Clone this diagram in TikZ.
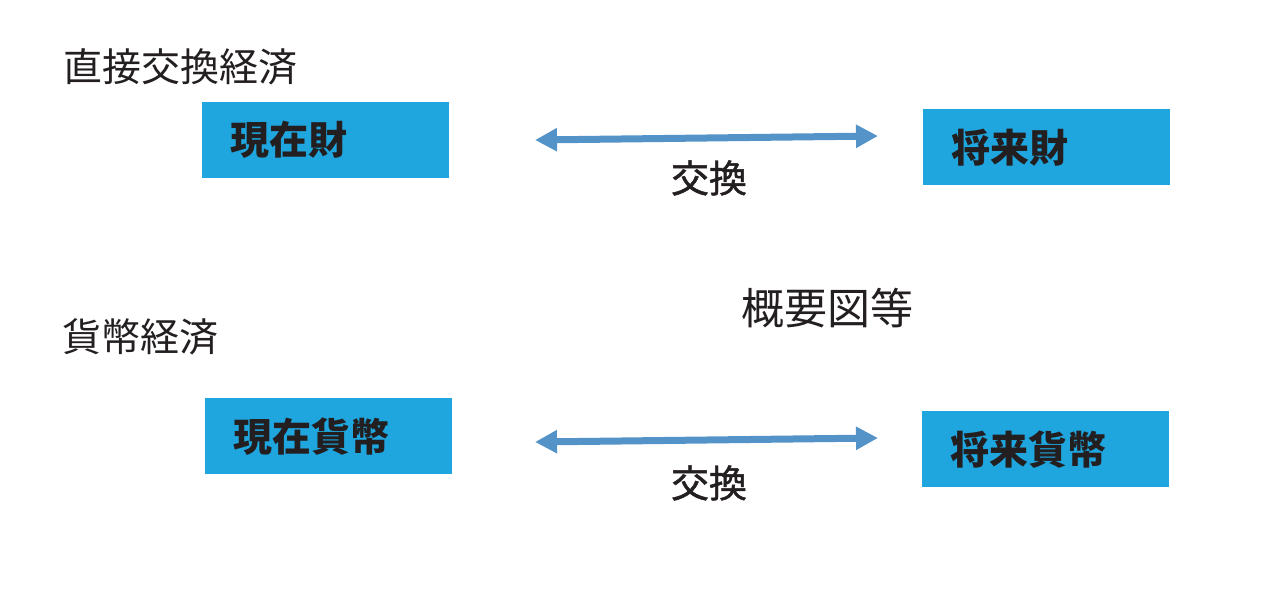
\documentclass[tikz,border=0pt]{standalone}
\usepackage{fontspec}
\usetikzlibrary{arrows.meta}
\newfontfamily\cjk{Noto Sans CJK JP}
\newfontfamily\cjkmid[FakeBold=1.2]{Noto Sans CJK JP}
\def \boxwidth {247pt}
\def \boxheight {76pt}
\definecolor{boxblue}{RGB}{31,166,222}
\definecolor{arrowblue}{RGB}{84,147,200}
\definecolor{inkgray}{RGB}{35,31,32}
\tikzset{
  goodsbox/.style={fill=boxblue, anchor=north west, minimum width=\boxwidth, minimum height=\boxheight,
    text width=191pt, inner xsep=28pt, inner ysep=0pt, align=left, text=inkgray,
    font=\cjk\bfseries\fontsize{39}{39}\selectfont},
  headtext/.style={anchor=west, inner sep=0pt, text=inkgray, font=\cjk\fontsize{39}{39}\selectfont},
  swaptext/.style={inner sep=0pt, text=inkgray, font=\cjkmid\fontsize{38}{38}\selectfont},
  swaparrow/.style={draw=arrowblue, line width=7pt, {Triangle[length=22pt,width=22pt]}-{Triangle[length=22pt,width=22pt]}}
}
\begin{document}
\begin{tikzpicture}[x=1pt,y=-1pt]
\useasboundingbox (0,0) rectangle (1283,592);
% Draw the direct exchange row
\node[headtext] (directhead) at (63,67) {直接交換経済};
\node[goodsbox] (nowgoods) at (202,102) {現在財};
\node[goodsbox] (futgoods) at (923,109) {将来財};
\coordinate (goodsleft) at (535,140);
\coordinate (goodsright) at (878,136);
\draw[swaparrow] (goodsleft) -- (goodsright);
\node[swaptext] (goodsswap) at (709,178) {交換};
% Draw the caption in the middle
\node[headtext, anchor=center, font=\cjk\fontsize{43}{43}\selectfont] (overview) at (827,308) {概要図等};
% Draw the money row
\node[headtext] (moneyhead) at (62,337) {貨幣経済};
\node[goodsbox] (nowmoney) at (205,398) {現在貨幣};
\node[goodsbox] (futmoney) at (922,411) {将来貨幣};
\coordinate (moneyleft) at (535,442);
\coordinate (moneyright) at (878,438);
\draw[swaparrow] (moneyleft) -- (moneyright);
\node[swaptext] (moneyswap) at (709,483) {交換};
\end{tikzpicture}
\end{document}
